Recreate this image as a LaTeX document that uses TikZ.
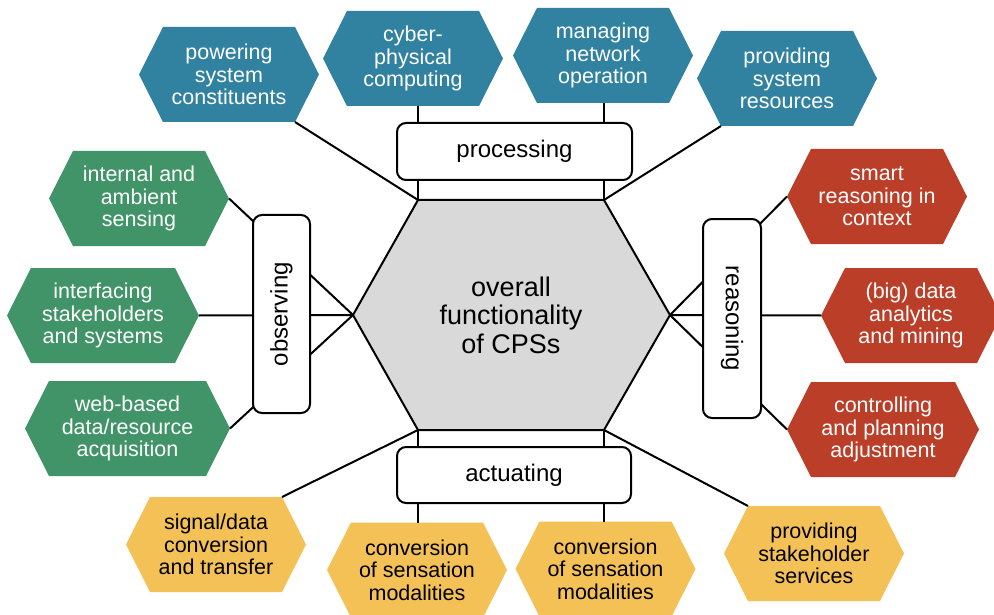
\documentclass[tikz,border=0pt]{standalone}
\usepackage{fontspec}
\setmainfont{Liberation Sans}
\usetikzlibrary{calc}
\definecolor{cpsblue}{RGB}{49,130,160}
\definecolor{cpsgreen}{RGB}{64,148,104}
\definecolor{cpsred}{RGB}{187,63,40}
\definecolor{cpsyellow}{RGB}{243,193,85}
\definecolor{coregray}{RGB}{217,217,217}
\tikzstyle{hextext}=[align=center,inner sep=0pt,font=\fontsize{21.5}{22.5}\selectfont]
\tikzstyle{coretext}=[align=center,inner sep=0pt,font=\fontsize{27}{28.5}\selectfont]
\tikzstyle{box}=[draw,line width=2pt,rounded corners=9pt,fill=white,inner sep=0pt,font=\fontsize{24}{28}\selectfont]
\tikzstyle{edge}=[draw,line width=2pt]

\begin{document}
\begin{tikzpicture}[x=1pt,y=-1pt]
	\useasboundingbox (0,0) rectangle (994,615);
	
	\path[draw,fill=coregray,line width=2pt] (353,315) coordinate(core-w) -- (418,200) coordinate(core-nw)
		-- (604,200) coordinate(core-ne) -- (670,315) coordinate(core-e)
		-- (604,430) coordinate(core-se) -- (418,430) coordinate(core-sw) -- cycle;
	\node[coretext] (core) at (511,315) {overall\\functionality\\of CPSs};
	
	\foreach \cx/\cy/\w/\col/\tcol/\name/\txt in {
		229/74.5/90/cpsblue/white/pow/{powering\\system\\constituents},
		413/58.5/90/cpsblue/white/cyb/{cyber-\\physical\\computing},
		603/55.5/90/cpsblue/white/man/{managing\\network\\operation},
		787/78.5/90/cpsblue/white/prv/{providing\\system\\resources},
		139/198.5/90/cpsgreen/white/int/{internal and\\ambient\\sensing},
		103/315.5/96/cpsgreen/white/ifc/{interfacing\\stakeholders\\and systems},
		127.5/428.5/102.5/cpsgreen/white/web/{web-based\\data/resource\\acquisition},
		877/196.5/90/cpsred/white/sma/{smart\\reasoning in\\context},
		911/315.5/90/cpsred/white/big/{(big) data\\analytics\\and mining},
		883/429.5/96/cpsred/white/ctl/{controlling\\and planning\\adjustment},
		216/544.5/90/cpsyellow/black/sig/{signal/data\\conversion\\and transfer},
		417/570/90/cpsyellow/black/cvi/{conversion\\of sensation\\modalities},
		605.5/569/90/cpsyellow/black/cvii/{conversion\\of sensation\\modalities},
		814/553.5/90/cpsyellow/black/stk/{providing\\stakeholder\\services}}
	{
		\path[fill=\col] (\cx-\w,\cy) coordinate(\name-w) -- (\cx-\w+24,\cy-47.5) coordinate(\name-nw)
			-- (\cx+\w-24,\cy-47.5) coordinate(\name-ne) -- (\cx+\w,\cy) coordinate(\name-e)
			-- (\cx+\w-24,\cy+47.5) coordinate(\name-se) -- (\cx-\w+24,\cy+47.5) coordinate(\name-sw) -- cycle;
		\node[hextext,text=\tcol] (\name) at (\cx,\cy) {\txt};
	}
	
	\path[edge] (pow-se) -- (core-nw);
	\path[edge] (core-nw) -- (core-nw |- cyb-se);
	\path[edge] (core-ne) -- (core-ne |- man-se);
	\path[edge] (prv-sw) -- (core-ne);
	\foreach \name in {int,ifc,web}
	\path[edge] (\name-e) -- (core-w);
	\foreach \name in {sma,big,ctl}
	\path[edge] (\name-w) -- (core-e);
	\path[edge] (sig-ne) -- (core-sw);
	\path[edge] (core-sw) -- (core-sw |- cvi-nw);
	\path[edge] (core-se) -- (core-se |- cvii-nw);
	\path[edge] (stk-nw) -- (core-se);
	
	\node[box,minimum width=235pt,minimum height=57pt] (proc) at (514.5,151.5) {processing};
	\node[box,minimum width=234pt,minimum height=56pt] (act) at (514,475) {actuating};
	\node[box,rotate=90,minimum width=198pt,minimum height=57pt] (obs) at (281.5,314) {observing};
	\node[box,rotate=-90,minimum width=199pt,minimum height=58pt] (reas) at (732,318.5) {reasoning};
\end{tikzpicture}
\end{document}
